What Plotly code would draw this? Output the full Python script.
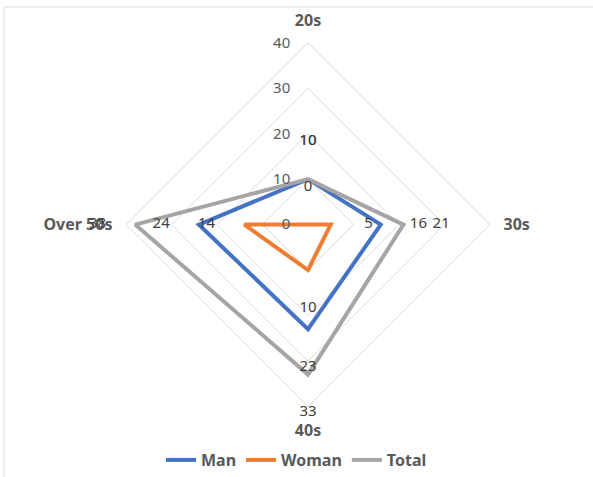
import plotly.graph_objects as go

# Age groups and counts per series
categories = ["20s", "30s", "40s", "Over 50s"]
man = [10, 16, 23, 24]
woman = [0, 5, 10, 14]
total = [10, 21, 33, 38]
radial_ticks = [0, 10, 20, 30, 40]

series = [
    ("Man", man, "#4472C4"),
    ("Woman", woman, "#ED7D31"),
    ("Total", total, "#A5A5A5"),
]

LABEL_OFFSET = 8.3  # data labels sit a little outside each vertex
FONT = "Noto Sans"
TEXT_GREY = "#595959"

W, H = 593, 477
cx, cy, R = 308, 226, 183          # main radar centre / radius in pixels
R_MAX, R_LBL_MAX = 40, 48          # value range of main plot and label overlay
R2 = R * R_LBL_MAX / R_MAX         # overlay radius so both share one scale


def domain(radius):
    return dict(x=[(cx - radius) / W, (cx + radius) / W],
                y=[(H - cy - radius) / H, (H - cy + radius) / H])


fig = go.Figure()

for name, vals, color in series:
    fig.add_trace(go.Scatterpolar(
        r=vals + vals[:1],
        theta=categories + categories[:1],
        mode="lines",
        name=name,
        line=dict(color=color, width=4),
        hoverinfo="skip",
        subplot="polar",
    ))

for name, vals, color in series:
    fig.add_trace(go.Scatterpolar(
        r=[v + LABEL_OFFSET for v in vals],
        theta=categories,
        mode="text",
        text=[str(v) for v in vals],
        textposition="middle center",
        textfont=dict(family=FONT, size=15, color="#404040"),
        showlegend=False,
        cliponaxis=False,
        hoverinfo="skip",
        subplot="polar2",
    ))

hidden_angular = dict(rotation=90, direction="clockwise", showgrid=False,
                      showline=False, showticklabels=False, ticks="")

fig.update_layout(
    width=W, height=H,
    margin=dict(l=0, r=0, t=0, b=0),
    paper_bgcolor="white",
    plot_bgcolor="white",
    font=dict(family=FONT, color=TEXT_GREY),
    polar=dict(
        domain=domain(R),
        gridshape="linear",
        bgcolor="white",
        radialaxis=dict(
            range=[0, R_MAX],
            tickvals=radial_ticks,
            showline=False,
            ticks="outside",
            ticklen=12,
            tickcolor="rgba(0,0,0,0)",
            angle=90,
            tickangle=90,
            side="counterclockwise",
            gridcolor="#D9D9D9",
            gridwidth=1,
            tickfont=dict(family=FONT, size=15, color=TEXT_GREY),
        ),
        angularaxis=dict(
            rotation=90,
            direction="clockwise",
            showgrid=False,
            showline=True,
            linecolor="#D9D9D9",
            linewidth=1,
            ticks="outside",
            ticklen=10,
            tickcolor="rgba(0,0,0,0)",
            tickfont=dict(family=FONT, size=16, color=TEXT_GREY, weight="bold"),
        ),
    ),
    polar2=dict(
        domain=domain(R2),
        gridshape="linear",
        bgcolor="rgba(0,0,0,0)",
        radialaxis=dict(range=[0, R_LBL_MAX], visible=False),
        angularaxis=hidden_angular,
    ),
    legend=dict(
        orientation="h",
        x=0.5, xanchor="center",
        y=(H - 463) / H, yanchor="middle",
        font=dict(family=FONT, size=16, color=TEXT_GREY, weight="bold"),
        itemwidth=30,
        bgcolor="rgba(0,0,0,0)",
    ),
    shapes=[dict(
        type="rect", xref="paper", yref="paper",
        x0=4 / W, x1=1.02, y0=-0.02, y1=(H - 7) / H,
        line=dict(color="#D9D9D9", width=1),
        fillcolor="rgba(0,0,0,0)",
        layer="below",
    )],
)

fig.write_html("out.html")
